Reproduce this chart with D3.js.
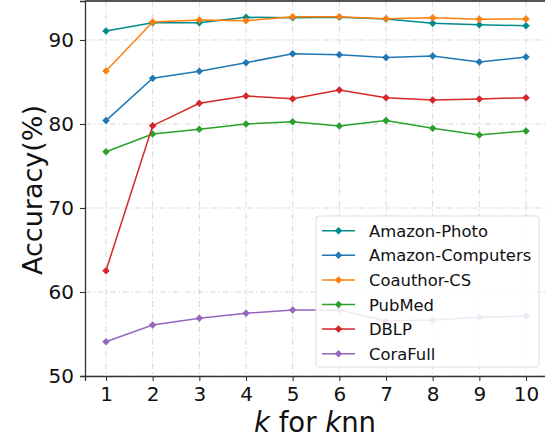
<!DOCTYPE html>
<html>
<head>
<meta charset="utf-8">
<script src="https://cdn.jsdelivr.net/npm/d3@7"></script>
<style>
body { margin: 0; background: #fff; }
svg { display: block; font-family: "DejaVu Sans", sans-serif; }
</style>
</head>
<body>
<script>
var kValues = [1, 2, 3, 4, 5, 6, 7, 8, 9, 10];
var amazonPhoto = [91.07, 92.06, 92.06, 92.7, 92.65, 92.7, 92.5, 92.0, 91.8, 91.7];
var amazonComputers = [80.4, 85.44, 86.27, 87.3, 88.37, 88.25, 87.9, 88.1, 87.38, 87.98];
var coauthorCS = [86.31, 92.14, 92.38, 92.3, 92.77, 92.77, 92.54, 92.65, 92.46, 92.5];
var pubMed = [76.7, 78.81, 79.37, 80.0, 80.27, 79.76, 80.4, 79.49, 78.69, 79.17];
var dblp = [62.54, 79.8, 82.46, 83.33, 83.0, 84.05, 83.13, 82.86, 82.98, 83.13];
var coraFull = [54.08, 56.07, 56.87, 57.46, 57.86, 57.86, 56.56, 56.67, 56.98, 57.14];
var seriesNames = ["Amazon-Photo", "Amazon-Computers", "Coauthor-CS", "PubMed", "DBLP", "CoraFull"];
var seriesColors = ["#008b8b", "#1f77b4", "#ff7f0e", "#2ca02c", "#d62728", "#9467bd"];
var yTicks = [50, 60, 70, 80, 90];

var series = [amazonPhoto, amazonComputers, coauthorCS, pubMed, dblp, coraFull].map(function(v, i) {
  return { name: seriesNames[i], color: seriesColors[i], values: v };
});

var width = 545, height = 443;
var plotLeft = 85, plotRight = 547, plotTop = 1, plotBottom = 376;

var svg = d3.select("body").append("svg")
    .attr("width", width)
    .attr("height", height);

var x = d3.scaleLinear().domain([0.55, 10.45]).range([plotLeft, plotRight]);
var y = d3.scaleLinear().domain([50, 94.64]).range([plotBottom, plotTop]);

// grid
var grid = svg.append("g");
grid.selectAll(".gx").data(kValues).enter().append("line")
    .attr("x1", function(d) { return x(d); })
    .attr("x2", function(d) { return x(d); })
    .attr("y1", plotTop).attr("y2", plotBottom)
    .attr("stroke", "#d9d9d9").attr("stroke-width", 1)
    .attr("stroke-dasharray", "6,2.5,1.5,2.5");
grid.selectAll(".gy").data(yTicks).enter().append("line")
    .attr("x1", plotLeft).attr("x2", plotRight)
    .attr("y1", function(d) { return y(d); })
    .attr("y2", function(d) { return y(d); })
    .attr("stroke", "#d9d9d9").attr("stroke-width", 1)
    .attr("stroke-dasharray", "6,2.5,1.5,2.5");

// lines
var line = d3.line()
    .x(function(d, i) { return x(kValues[i]); })
    .y(function(d) { return y(d); });

var diamond = d3.symbol().type(d3.symbolDiamond2).size(36);

series.forEach(function(s) {
  var g = svg.append("g");
  g.append("path")
      .attr("d", line(s.values))
      .attr("fill", "none")
      .attr("stroke", s.color)
      .attr("stroke-width", 1.5);
  g.selectAll("path.m").data(s.values).enter().append("path")
      .attr("class", "m")
      .attr("d", diamond)
      .attr("transform", function(d, i) { return "translate(" + x(kValues[i]) + "," + y(d) + ")"; })
      .attr("fill", s.color);
});

// axes
var xAxis = svg.append("g")
    .attr("transform", "translate(0," + plotBottom + ")")
    .call(d3.axisBottom(x).tickValues(kValues).tickFormat(d3.format("d")).tickSizeOuter(0).tickSize(5).tickPadding(6));
var yAxis = svg.append("g")
    .attr("transform", "translate(" + plotLeft + ",0)")
    .call(d3.axisLeft(y).tickValues(yTicks).tickSizeOuter(0).tickSize(5).tickPadding(6));

[xAxis, yAxis].forEach(function(a) {
  a.attr("font-size", 20).attr("font-family", "DejaVu Sans");
  a.select(".domain").attr("stroke", "#333").attr("stroke-width", 1.3);
  a.selectAll(".tick line").attr("stroke", "#333").attr("stroke-width", 1.1);
  a.selectAll(".tick text").attr("fill", "#111");
});

// top spine
svg.append("line")
    .attr("x1", plotLeft).attr("x2", plotRight)
    .attr("y1", plotTop).attr("y2", plotTop)
    .attr("stroke", "#555").attr("stroke-width", 2);

// axis labels
svg.append("text")
    .attr("transform", "translate(42,190) rotate(-90)")
    .attr("text-anchor", "middle")
    .attr("font-size", 27)
    .attr("fill", "#111")
    .text("Accuracy(%)");

var xl = svg.append("text")
    .attr("x", 315).attr("y", 432)
    .attr("text-anchor", "middle")
    .attr("font-size", 27.5)
    .attr("fill", "#111");
xl.append("tspan").attr("font-style", "italic").text("k");
xl.append("tspan").text(" for ");
xl.append("tspan").attr("font-style", "italic").text("k");
xl.append("tspan").text("nn");

// legend
var lg = svg.append("g");
lg.append("rect")
    .attr("x", 316).attr("y", 216)
    .attr("width", 223).attr("height", 151)
    .attr("rx", 3)
    .attr("fill", "#fff").attr("fill-opacity", 0.85)
    .attr("stroke", "#ddd").attr("stroke-width", 1);

var rows = lg.selectAll(".row").data(series).enter().append("g")
    .attr("transform", function(d, i) { return "translate(0," + (230.7 + i * 24.6) + ")"; });
rows.append("line")
    .attr("x1", 322).attr("x2", 355)
    .attr("stroke", function(d) { return d.color; })
    .attr("stroke-width", 1.5);
rows.append("path")
    .attr("d", diamond)
    .attr("transform", "translate(338.5,0)")
    .attr("fill", function(d) { return d.color; });
rows.append("text")
    .attr("x", 369).attr("y", 6)
    .attr("font-size", 16.4)
    .attr("fill", "#111")
    .text(function(d) { return d.name; });
</script>
</body>
</html>
